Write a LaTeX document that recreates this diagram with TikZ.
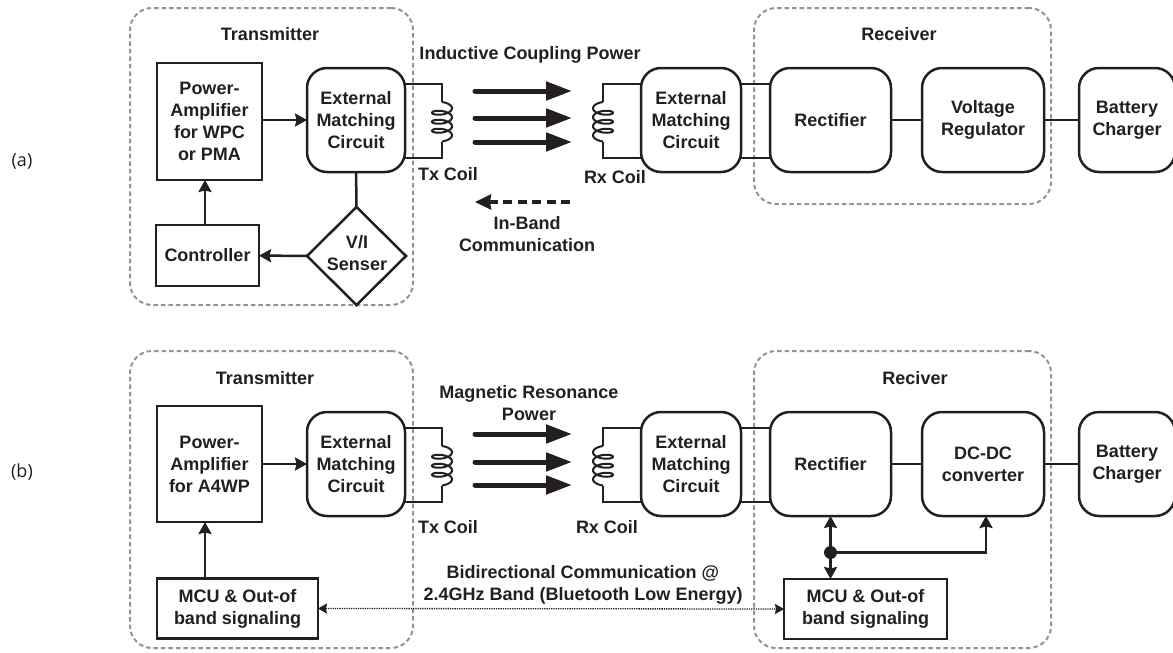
\documentclass[tikz,border=0pt]{standalone}
\usepackage{fontspec}
\setmainfont{Liberation Sans}
\newfontfamily\sidefont{Open Sans}
\usetikzlibrary{positioning, arrows.meta, calc, shapes.geometric}
\definecolor{ink}{HTML}{231F20}
\definecolor{dashc}{HTML}{949494}
\tikzset{
  sqbox/.style={draw=ink, line width=2.5pt, align=center, text=ink, inner sep=0pt, outer sep=0pt,
                font=\fontsize{18}{22}\selectfont\bfseries},
  rndbox/.style={sqbox, rounded corners=20pt, minimum height=104pt},
  panel/.style={draw=dashc, line width=2pt, rounded corners=22pt,
                dash pattern=on 4.5pt off 3pt},
  senser/.style={sqbox, diamond, aspect=1, minimum width=99pt, minimum height=98pt},
  lbl/.style={text=ink, align=center, inner sep=0pt,
              font=\fontsize{18}{22}\selectfont\bfseries},
  sidelbl/.style={text=ink, inner sep=0pt, font=\fontsize{18}{20}\sidefont},
  wire/.style={draw=ink, line width=2.5pt},
  arr/.style={wire, -{Stealth[length=12pt, width=13pt, inset=1.5pt]}},
  twoarr/.style={wire, {Stealth[length=12pt, width=13pt, inset=1.5pt]}-{Stealth[length=12pt, width=13pt, inset=1.5pt]}},
  powerarr/.style={draw=ink, line width=5pt, line cap=round, -{Stealth[length=26pt, width=18pt, inset=0pt]}},
  backarr/.style={draw=ink, line width=4.5pt, dash pattern=on 9pt off 5.5pt,
                  -{Stealth[length=16pt, width=15pt, inset=1pt]}},
  dotarr/.style={draw=ink, line width=1.3pt, densely dotted,
                 {Stealth[length=9pt, width=10pt, inset=1pt]}-{Stealth[length=9pt, width=10pt, inset=1pt]}},
}
% coil through (#1,#2), running downward; #3 = 1 bulges right, -1 bulges left
\newcommand{\coilat}[3]{%
  \draw[draw=ink, line width=2pt, line join=round] plot[domain=-90:1170, samples=110, smooth]
    ({#1+#3*10*cos(\x)}, {#2+9*(\x+90)/360+4*sin(\x)+4});
}
\begin{document}
\begin{tikzpicture}[x=1pt, y=-1pt]
  \useasboundingbox (0,0) rectangle (1173,653);
  % dashed panels
  \node[panel, minimum width=283pt, minimum height=297pt] (txa) at (271.5,156.5) {};
  \node[panel, minimum width=297pt, minimum height=196pt] (rxa) at (902.5,106) {};
  \node[panel, minimum width=283pt, minimum height=297pt] (txb) at (271.5,499.5) {};
  \node[panel, minimum width=297pt, minimum height=297pt] (rxb) at (902.5,499.5) {};
  % upper chain
  \node[sqbox, minimum width=105pt, minimum height=117pt] (paa) at (209.5,121.5)
    {Power-\\Amplifier\\for WPC\\or PMA};
  \node[rndbox, minimum width=98pt, right=45pt of paa, yshift=1.5pt] (txma) {External\\Matching\\Circuit};
  \node[rndbox, minimum width=100pt] (rxma) at (691,120) {External\\Matching\\Circuit};
  \node[rndbox, minimum width=121pt, right=29pt of rxma] (recta) {Rectifier};
  \node[rndbox, minimum width=122pt, right=31pt of recta] (rega) {Voltage\\Regulator};
  \node[rndbox, minimum width=96pt, right=35pt of rega] (bata) {Battery\\Charger};
  \node[sqbox, minimum width=103pt, minimum height=61pt] (ctl) at (207.5,255.5) {Controller};
  \node[senser] (sen) at (356.5,256) {};
  \node[lbl] (senl) at (357,253) {V/I\\Senser};
  \coordinate (tcta) at (442,102);
  \coordinate (tcba) at (442,141.5);
  \coordinate (rcta) at (603,102);
  \coordinate (rcba) at (603,141.5);
  \coilat{442}{102}{1}
  \coilat{603}{102}{-1}
  \draw[wire] ([yshift=36pt]txma.east) -| (tcta);
  \draw[wire] ([yshift=-38pt]txma.east) -| (tcba);
  \draw[wire] ([yshift=36pt]rxma.west) -| (rcta);
  \draw[wire] ([yshift=-38pt]rxma.west) -| (rcba);
  \draw[wire] ([yshift=36pt]rxma.east) -- ([yshift=36pt]recta.west);
  \draw[wire] ([yshift=-38pt]rxma.east) -- ([yshift=-38pt]recta.west);
  \draw[wire] (recta) -- (rega);
  \draw[wire] (rega) -- (bata);
  \draw[arr] (paa.east |- txma) -- (txma);
  \draw[arr] (sen) -- (ctl);
  \draw[arr] (ctl.north -| 205,0) -- (paa.south -| 205,0);
  \draw[wire] (txma) -- (sen);
  \foreach \yy in {91,118,142} {
    \coordinate (pas\yy) at (475,\yy);
    \coordinate (pae\yy) at (572,\yy);
    \draw[powerarr] (pas\yy) -- (pae\yy);
  }
  \coordinate (ibs) at (570,202);
  \coordinate (ibe) at (475,202);
  \draw[backarr] (ibs) -- (ibe);
  \node[lbl] (ttla) at (270,34) {Transmitter};
  \node[lbl] (rtla) at (899,34) {Receiver};
  \node[lbl] (icp) at (530,55) {Inductive Coupling Power};
  \node[lbl] (txla) at (448,174) {Tx Coil};
  \node[lbl] (rxla) at (615,177) {Rx Coil};
  \node[lbl] (ibc) at (527,234) {In-Band\\Communication};
  \node[sidelbl] (sa) at (22,161) {(a)};
  % lower chain
  \node[sqbox, minimum width=105pt, minimum height=116pt] (pab) at (209.5,464)
    {Power-\\Amplifier\\for A4WP};
  \node[rndbox, minimum width=98pt, right=45pt of pab] (txmb) {External\\Matching\\Circuit};
  \node[rndbox, minimum width=100pt] (rxmb) at (691,464) {External\\Matching\\Circuit};
  \node[rndbox, minimum width=121pt, right=29pt of rxmb] (rectb) {Rectifier};
  \node[rndbox, minimum width=122pt, right=31pt of rectb] (dcdc) {DC-DC\\converter};
  \node[rndbox, minimum width=96pt, right=35pt of dcdc] (batb) {Battery\\Charger};
  \node[sqbox, minimum width=161pt, minimum height=60pt] (mcut) at (237.5,608.5) {MCU \& Out-of\\band signaling};
  \node[sqbox, minimum width=163pt, minimum height=60pt] (mcur) at (865.5,609) {MCU \& Out-of\\band signaling};
  \coordinate (tctb) at (442,446);
  \coordinate (tcbb) at (442,485.5);
  \coordinate (rctb) at (603,446);
  \coordinate (rcbb) at (603,485.5);
  \coilat{442}{446}{1}
  \coilat{603}{446}{-1}
  \draw[wire] ([yshift=36pt]txmb.east) -| (tctb);
  \draw[wire] ([yshift=-38pt]txmb.east) -| (tcbb);
  \draw[wire] ([yshift=36pt]rxmb.west) -| (rctb);
  \draw[wire] ([yshift=-38pt]rxmb.west) -| (rcbb);
  \draw[wire] ([yshift=36pt]rxmb.east) -- ([yshift=36pt]rectb.west);
  \draw[wire] ([yshift=-38pt]rxmb.east) -- ([yshift=-38pt]rectb.west);
  \draw[wire] (rectb) -- (dcdc);
  \draw[wire] (dcdc) -- (batb);
  \draw[arr] (pab.east |- txmb) -- (txmb);
  \draw[arr] (mcut.north -| 205,0) -- (pab.south -| 205,0);
  \foreach \yy in {434,462,485} {
    \coordinate (pbs\yy) at (475,\yy);
    \coordinate (pbe\yy) at (572,\yy);
    \draw[powerarr] (pbs\yy) -- (pbe\yy);
  }
  \node[circle, fill=ink, minimum size=13pt, inner sep=0pt] (jn) at (830.5,552.5) {};
  \draw[twoarr] (rectb.south -| jn) -- (mcur.north -| jn);
  \draw[arr] (jn) -| (dcdc.south -| 986,0);
  \draw[dotarr] (mcut.east) -- (mcur.west);
  \node[lbl] (ttlb) at (265,378) {Transmitter};
  \node[lbl] (rtlb) at (915,378) {Reciver};
  \node[lbl] (mrp) at (529,403) {Magnetic Resonance\\Power};
  \node[lbl] (txlb) at (448,527) {Tx Coil};
  \node[lbl] (rxlb) at (607,527) {Rx Coil};
  \node[lbl] (bdc) at (583,585) {Bidirectional Communication @\\2.4GHz Band (Bluetooth Low Energy)};
  \node[sidelbl] (sb) at (22,472) {(b)};
\end{tikzpicture}
\end{document}
